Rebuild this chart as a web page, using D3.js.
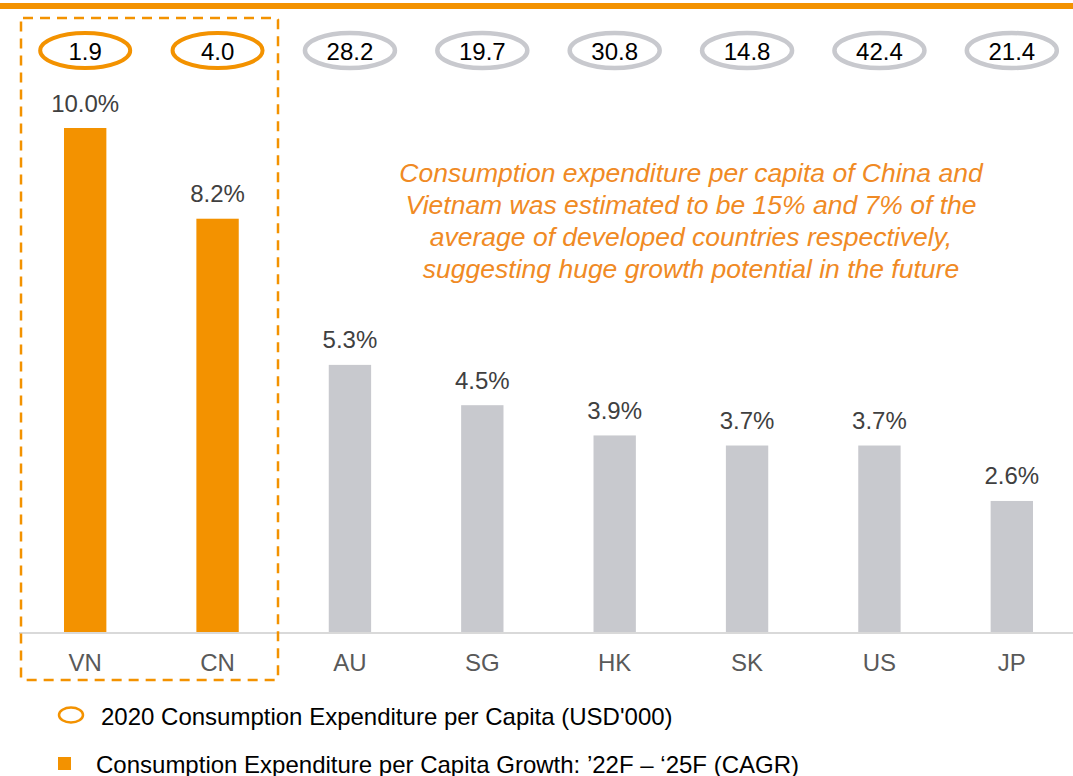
<!DOCTYPE html>
<html><head><meta charset="utf-8">
<script src="https://cdn.jsdelivr.net/npm/d3@7"></script>
<style>body{margin:0;background:#fff}svg{display:block;font-family:"Liberation Sans",Arial,sans-serif}</style>
</head><body><svg id="c" width="1073" height="776"></svg>
<script>
const categories = ["VN","CN","AU","SG","HK","SK","US","JP"];
const growth = [10.0, 8.2, 5.3, 4.5, 3.9, 3.7, 3.7, 2.6];
const spend2020 = [1.9, 4.0, 28.2, 19.7, 30.8, 14.8, 42.4, 21.4];
const highlighted = ["VN","CN"];
const noteLines = ["Consumption expenditure per capita of China and","Vietnam was estimated to be 15% and 7% of the","average of developed countries respectively,","suggesting huge growth potential in the future"];
const legendLabels = ["2020 Consumption Expenditure per Capita (USD'000)","Consumption Expenditure per Capita Growth: \u201922F \u2013 \u201825F (CAGR)"];

const ORANGE = "#F39200", GRAY = "#C8C9CE", NOTE = "#F08A24";
const svg = d3.select("#c");
const x = d3.scaleBand().domain(categories).range([19, 1078]).paddingInner(0.68).paddingOuter(0.34);
const y = d3.scaleLinear().domain([0, 10]).range([632, 128]);

// top orange rule
svg.append("rect").attr("x",0).attr("y",3).attr("width",1073).attr("height",6).attr("fill",ORANGE);

// baseline
svg.append("line").attr("x1",19).attr("x2",1073).attr("y1",633).attr("y2",633).attr("stroke","#D9D9D9").attr("stroke-width",2);

// bars
svg.selectAll("rect.bar").data(categories).join("rect").attr("class","bar")
  .attr("x",d=>x(d)).attr("width",x.bandwidth())
  .attr("y",(d,i)=>y(growth[i])).attr("height",(d,i)=>y(0)-y(growth[i]))
  .attr("fill",d=>highlighted.includes(d)?ORANGE:GRAY);

// value labels
svg.selectAll("text.val").data(categories).join("text").attr("class","val")
  .attr("x",d=>x(d)+x.bandwidth()/2).attr("y",(d,i)=>y(growth[i])-16.5)
  .attr("text-anchor","middle").attr("font-size",24).attr("fill","#404040")
  .text((d,i)=>growth[i].toFixed(1)+"%");

// category labels
svg.selectAll("text.cat").data(categories).join("text").attr("class","cat")
  .attr("x",d=>x(d)+x.bandwidth()/2).attr("y",670.5)
  .attr("text-anchor","middle").attr("font-size",24).attr("fill","#595959").text(d=>d);

// ellipses
const eg = svg.selectAll("g.ell").data(categories).join("g").attr("class","ell")
  .attr("transform",d=>`translate(${x(d)+x.bandwidth()/2},50.5)`);
eg.append("ellipse").attr("rx",45).attr("ry",17.5).attr("fill","#fff")
  .attr("stroke",d=>highlighted.includes(d)?ORANGE:GRAY)
  .attr("stroke-width",d=>highlighted.includes(d)?4:4.5);
eg.append("text").attr("y",9).attr("text-anchor","middle").attr("font-size",24).attr("fill","#000")
  .text((d,i)=>spend2020[i].toFixed(1));

// dashed highlight box
svg.append("rect").attr("x",21).attr("y",18).attr("width",257).attr("height",662).attr("rx",2)
  .attr("fill","none").attr("stroke",ORANGE).attr("stroke-width",2.5).attr("stroke-dasharray","10,7");

// note
svg.append("g").selectAll("text").data(noteLines).join("text")
  .attr("x",691).attr("y",(d,i)=>181.5+i*32).attr("text-anchor","middle")
  .attr("font-size",26.5).attr("font-style","italic").attr("fill",NOTE).text(d=>d);

// legend
svg.append("ellipse").attr("cx",71).attr("cy",715).attr("rx",12).attr("ry",7.5)
  .attr("fill","none").attr("stroke",ORANGE).attr("stroke-width",2.5);
svg.append("text").attr("x",101).attr("y",724.5).attr("font-size",24).attr("fill","#000").text(legendLabels[0]);
svg.append("rect").attr("x",58).attr("y",757).attr("width",13).attr("height",13).attr("fill",ORANGE);
svg.append("text").attr("x",96).attr("y",772.5).attr("font-size",24).attr("fill","#000").text(legendLabels[1]);
</script></body></html>
